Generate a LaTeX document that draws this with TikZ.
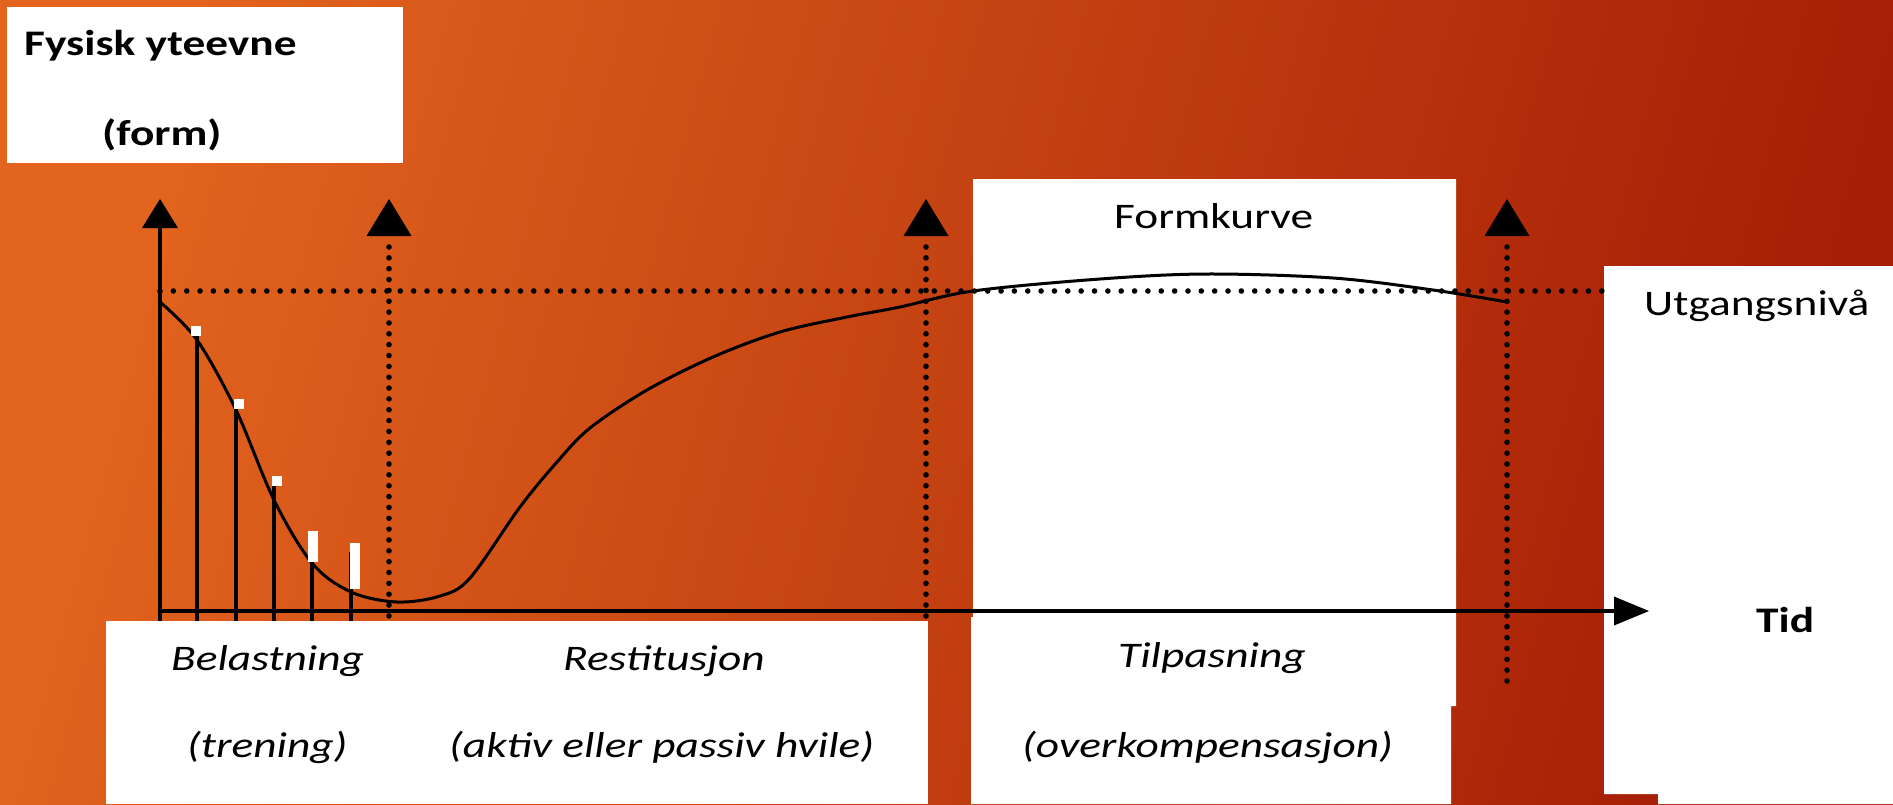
\documentclass[tikz,border=0pt]{standalone}
\usepackage{fontspec}
\setmainfont{Carlito}[FakeStretch=1.26]
\definecolor{bgL}{RGB}{226,100,30}
\definecolor{bgR}{RGB}{166,30,6}
\begin{document}
\begin{tikzpicture}[x=1pt,y=-1pt,
  lbl/.style={inner sep=0pt, anchor=base west, font=\fontsize{36}{43}\selectfont},
  panel/.style={fill=white, draw=none},
  axisline/.style={line width=3.2pt},
  bar/.style={line width=3.3pt},
  hdots/.style={line width=5.6pt, line cap=round, dash pattern=on 0pt off 13.35pt},
  vdots/.style={line width=5.6pt, line cap=round, dash pattern=on 0pt off 10.85pt},
  tip/.style={fill=black}]
% background
\shade[left color=bgL, right color=bgR, shading angle=75] (0,0) rectangle (1893,804);
\useasboundingbox (0,0) rectangle (1893,804);
% white panels
\fill[panel] (7,7) rectangle (403,163);
\fill[panel] (106,621) rectangle (928,804);
\fill[panel] (973,179) -- (1456,179) -- (1456,706) -- (1451,706) -- (1451,804) -- (971,804) -- (971,617) -- (973,617) -- cycle;
\fill[panel] (1604,266) -- (1893,266) -- (1893,804) -- (1658,804) -- (1658,794) -- (1604,794) -- cycle;
% baseline dotted level
\draw[hdots] (160,291) -- (1603,291);
% dotted phase lines
\draw[vdots] (389,247) -- (389,617);
\draw[vdots] (926,247) -- (926,617);
\draw[vdots] (1507,247) -- (1507,682);
\fill[tip] (366.5,236) -- (411.5,236) -- (389,199) -- cycle;
\fill[tip] (903.5,236) -- (948.5,236) -- (926,199) -- cycle;
\fill[tip] (1484.5,236) -- (1529.5,236) -- (1507,199) -- cycle;
% bars
\draw[bar] (197,335) -- (197,621);
\draw[bar] (236,405) -- (236,621);
\draw[bar] (274,483) -- (274,621);
\draw[bar] (312,560) -- (312,621);
\draw[bar] (351,552) -- (351,621);
% axes
\draw[axisline] (160,621) -- (160,226);
\fill[tip] (142,228) -- (178,228) -- (160,199) -- cycle;
\draw[axisline] (160,611) -- (1616,611);
\fill[tip] (1614,596.5) -- (1614,625.5) -- (1649,611) -- cycle;
% form curve
\draw[line width=3pt, line join=round] plot[smooth, tension=0.55] coordinates
  {(160,302) (197,340) (236,410) (274,500) (312,563) (351,592) (397,602) (440,596) (470,578) (520,507) (557,462) (590,428) (647,390) (713,357) (780,332) (847,317) (900,307) (973,291) (1100,279) (1207,274) (1333,278) (1433,290) (1507,302)};
% white markers
\fill[white] (191,326) rectangle (201,336);
\fill[white] (234,399) rectangle (244,409);
\fill[white] (272,476) rectangle (282,486);
\fill[white] (308,531) rectangle (318,562);
\fill[white] (350,543) rectangle (360,589);
% texts
\node[lbl] (ytitle) at (24,55) {\bfseries Fysisk yteevne};
\node[lbl] (yform) at (102,145) {\bfseries (form)};
\node[lbl] (formk) at (1114,228) {Formkurve};
\node[lbl] (utg) at (1644,315) {Utgangsnivå};
\node[lbl] (tid) at (1756,632) {\bfseries Tid};
\node[lbl] (bel) at (171,670) {\itshape Belastning};
\node[lbl] (tren) at (187,757) {\itshape (trening)};
\node[lbl] (rest) at (563,670) {\itshape Restitusjon};
\node[lbl] (hvile) at (449,757) {\itshape (aktiv eller passiv hvile)};
\node[lbl] (tilp) at (1118,667) {\itshape Tilpasning};
\node[lbl] (overk) at (1022,757) {\itshape (overkompensasjon)};
\end{tikzpicture}
\end{document}
